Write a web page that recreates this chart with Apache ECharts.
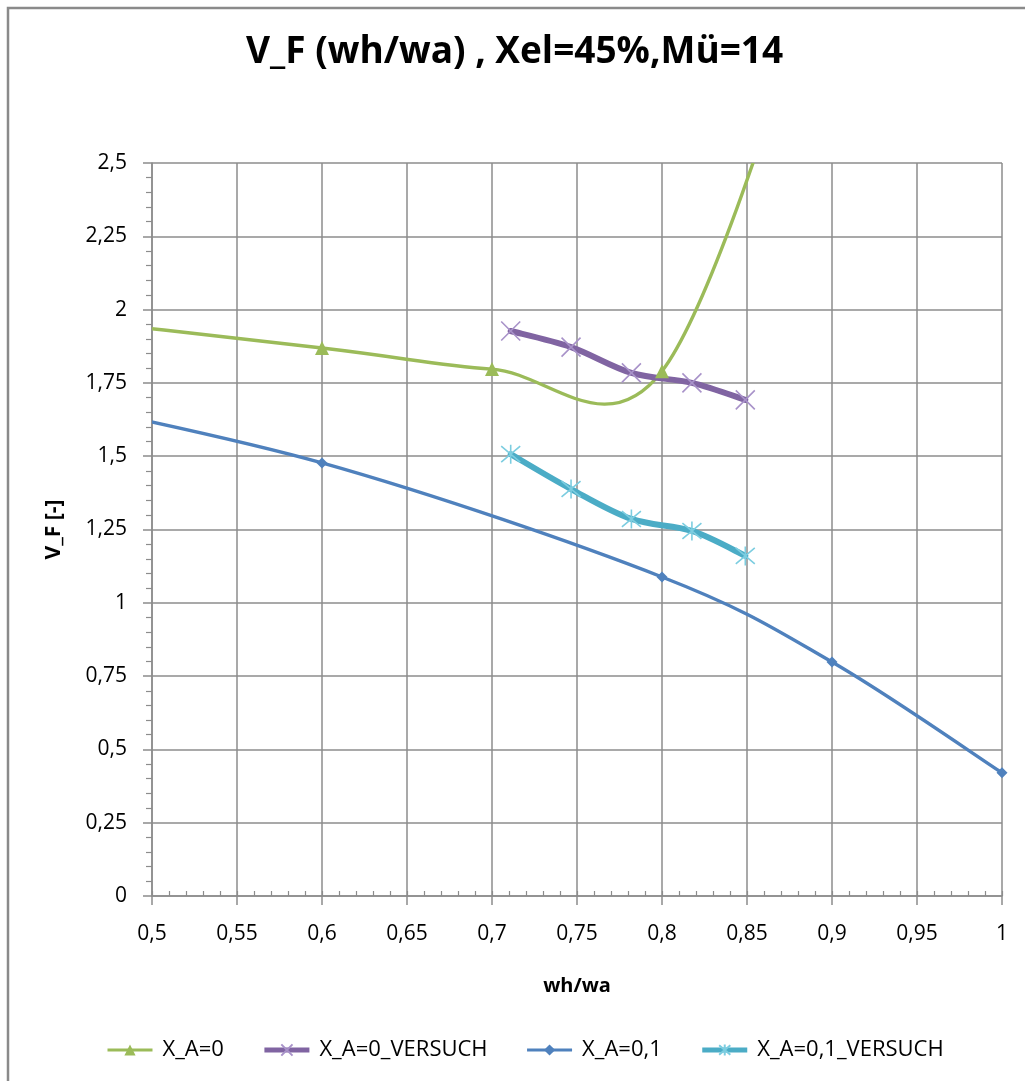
<!DOCTYPE html>
<html>
<head>
<meta charset="utf-8">
<script src="https://cdn.jsdelivr.net/npm/echarts@6/dist/echarts.min.js"></script>
<style>
  html, body { margin: 0; padding: 0; background: #ffffff; }
  #chart { width: 1025px; height: 1081px; }
</style>
</head>
<body>
<div id="chart"></div>
<script>
// wh/wa positions and V_F values per series
const xA0_x = [0.4, 0.6, 0.7, 0.8, 0.9];
const xA0_y = [2.0, 1.869, 1.797, 1.79, 3.3];

const xA0V_x = [0.711, 0.7465, 0.782, 0.8176, 0.849];
const xA0V_y = [1.927, 1.872, 1.784, 1.75, 1.692];

const xA01_x = [0.4, 0.6, 0.8, 0.9, 1.0];
const xA01_y = [1.74, 1.477, 1.088, 0.798, 0.42];

const xA01V_x = [0.711, 0.7465, 0.782, 0.8176, 0.849];
const xA01V_y = [1.507, 1.388, 1.286, 1.245, 1.16];

const seriesNames = ['X_A=0', 'X_A=0_VERSUCH', 'X_A=0,1', 'X_A=0,1_VERSUCH'];

const FONT = '"Open Sans", "Noto Sans", sans-serif';
const C_GREEN = '#9BBB59', C_PURPLE = '#8064A2', C_BLUE = '#4F81BD', C_CYAN = '#4BACC6';
const GRID_C = '#8c8c8c';

const pairs = (xs, ys) => xs.map((x, i) => [x, ys[i]]);
const comma = v => String(Math.round(v * 1000) / 1000).replace('.', ',');

// Spreadsheet-style smoothed line: cubic Bezier with Catmull-Rom control points
function smoothCurve(xs, ys, color, width) {
  return function (params, api) {
    if (params.dataIndex !== 0) return null;
    const p = xs.map((x, i) => api.coord([x, ys[i]]));
    let d = 'M' + p[0][0] + ',' + p[0][1];
    for (let i = 0; i < p.length - 1; i++) {
      const a = p[i - 1] || p[i], b = p[i], c = p[i + 1], e = p[i + 2] || p[i + 1];
      const c1 = [b[0] + (c[0] - a[0]) / 6, b[1] + (c[1] - a[1]) / 6];
      const c2 = [c[0] - (e[0] - b[0]) / 6, c[1] - (e[1] - b[1]) / 6];
      d += ' C' + c1[0] + ',' + c1[1] + ' ' + c2[0] + ',' + c2[1] + ' ' + c[0] + ',' + c[1];
    }
    return {
      type: 'path',
      shape: { pathData: d },
      style: { fill: null, stroke: color, lineWidth: width, lineCap: 'round', lineJoin: 'round' }
    };
  };
}

function curveSeries(xs, ys, color, width) {
  return {
    type: 'custom',
    clip: true,
    silent: true,
    z: 2,
    data: [[xs[1], ys[1]]],
    renderItem: smoothCurve(xs, ys, color, width)
  };
}

function markerSeries(name, xs, ys, symbol, size, itemStyle, lineColor) {
  return {
    name: name,
    type: 'line',
    z: 3,
    data: pairs(xs, ys),
    symbol: symbol,
    symbolSize: size,
    showAllSymbol: true,
    clip: true,
    itemStyle: itemStyle,
    lineStyle: { color: lineColor, opacity: 0, width: 0 },
    emphasis: { disabled: true }
  };
}

const CROSS = 'path://M0,0L10,10M10,0L0,10';
const STAR = 'path://M0,0L10,10M10,0L0,10M5,-1L5,11';

const chart = echarts.init(document.getElementById('chart'), null, { renderer: 'canvas' });

chart.setOption({
  animation: false,
  backgroundColor: '#ffffff',
  textStyle: { fontFamily: FONT },
  graphic: [{
    type: 'rect',
    shape: { x: 8, y: 8, width: 1100, height: 1100 },
    style: { fill: null, stroke: '#8a8a8a', lineWidth: 2.5 },
    silent: true
  }],
  title: {
    text: 'V_F (wh/wa) , Xel=45%,Mü=14',
    left: 241,
    top: 29,
    textStyle: { fontFamily: FONT, fontSize: 37, fontWeight: 'bold', color: '#000' }
  },
  legend: {
    bottom: 15,
    left: 101,
    itemWidth: 45,
    itemHeight: 14,
    itemGap: 38,
    textStyle: { fontFamily: FONT, fontSize: 22, color: '#000', padding: [0, 0, 0, 5] },
    data: [
      { name: seriesNames[0], lineStyle: { color: C_GREEN, width: 3, opacity: 1 } },
      { name: seriesNames[1], lineStyle: { color: C_PURPLE, width: 5, opacity: 1 } },
      { name: seriesNames[2], lineStyle: { color: C_BLUE, width: 3, opacity: 1 } },
      { name: seriesNames[3], lineStyle: { color: C_CYAN, width: 5, opacity: 1 } }
    ]
  },
  grid: { left: 152, right: 23, top: 163, bottom: 185 },
  xAxis: [{
    type: 'value',
    min: 0.5, max: 1, interval: 0.05,
    name: 'wh/wa',
    nameLocation: 'middle',
    nameGap: 80,
    nameTextStyle: { fontFamily: FONT, fontSize: 20, fontWeight: 'bold', color: '#000' },
    axisLine: { show: true, lineStyle: { color: GRID_C, width: 1.5 } },
    axisTick: { show: true, inside: false, length: 9, lineStyle: { color: GRID_C, width: 1.5 } },
    axisLabel: { fontFamily: FONT, fontSize: 21, color: '#000', margin: 28, formatter: comma },
    splitLine: { show: true, lineStyle: { color: GRID_C, width: 1.5 } }
  }, {
    type: 'value',
    position: 'bottom',
    min: 0.5, max: 1, interval: 0.05,
    axisLine: { show: false },
    axisLabel: { show: false },
    axisTick: { show: true, inside: true, length: 5, lineStyle: { color: GRID_C, width: 1.2 } },
    minorTick: { show: true, splitNumber: 5, length: 5, lineStyle: { color: GRID_C, width: 1.2 } },
    splitLine: { show: false }
  }],
  yAxis: {
    type: 'value',
    min: 0, max: 2.5, interval: 0.25,
    name: 'V_F [-]',
    nameLocation: 'middle',
    nameRotate: 90,
    nameGap: 87,
    nameTextStyle: { fontFamily: FONT, fontSize: 21, fontWeight: 'bold', color: '#000' },
    axisLine: { show: true, lineStyle: { color: GRID_C, width: 1.5 } },
    axisTick: { show: true, inside: false, length: 9, lineStyle: { color: GRID_C, width: 1.5 } },
    minorTick: { show: true, splitNumber: 5, length: 6, lineStyle: { color: GRID_C, width: 1.2 } },
    axisLabel: { fontFamily: FONT, fontSize: 21, color: '#000', margin: 25, formatter: comma },
    splitLine: { show: true, lineStyle: { color: GRID_C, width: 1.5 } }
  },
  series: [
    curveSeries(xA0_x, xA0_y, C_GREEN, 3.4),
    curveSeries(xA01_x, xA01_y, C_BLUE, 3.4),
    curveSeries(xA0V_x, xA0V_y, C_PURPLE, 6),
    curveSeries(xA01V_x, xA01V_y, C_CYAN, 6),
    markerSeries(seriesNames[0], xA0_x, xA0_y, 'triangle', 14, { color: C_GREEN }, C_GREEN),
    markerSeries(seriesNames[1], xA0V_x, xA0V_y, CROSS, 19,
      { color: 'rgba(0,0,0,0)', borderColor: '#a892c9', borderWidth: 1.6 }, C_PURPLE),
    markerSeries(seriesNames[2], xA01_x, xA01_y, 'diamond', 11, { color: C_BLUE }, C_BLUE),
    markerSeries(seriesNames[3], xA01V_x, xA01V_y, STAR, 19,
      { color: 'rgba(0,0,0,0)', borderColor: '#7ccde0', borderWidth: 1.6 }, C_CYAN)
  ]
});
</script>
</body>
</html>
